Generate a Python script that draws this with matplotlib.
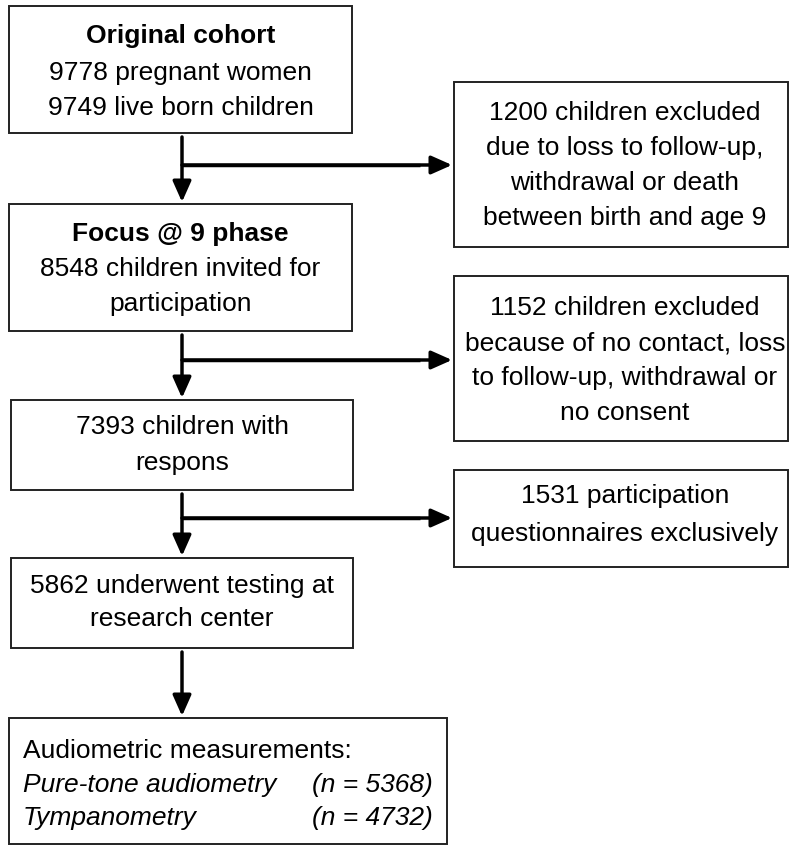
import matplotlib.pyplot as plt
from matplotlib.patches import Rectangle

plt.rcParams['font.family'] = ['Liberation Sans', 'DejaVu Sans']

# Textinhalt der Kästen
main_titles = ['Original cohort', 'Focus @ 9 phase', None, None]
main_lines = [
    ['9778 pregnant women', '9749 live born children'],
    ['8548 children invited for', 'participation'],
    ['7393 children with', 'respons'],
    ['5862 underwent testing at', 'research center'],
]
excluded_lines = [
    ['1200 children excluded', 'due to loss to follow-up,', 'withdrawal or death', 'between birth and age 9'],
    ['1152 children excluded', 'because of no contact, loss', 'to follow-up, withdrawal or', 'no consent'],
    ['1531 participation', 'questionnaires exclusively'],
]
final_header = 'Audiometric measurements:'
final_methods = ['Pure-tone audiometry', 'Tympanometry']
final_n = [5368, 4732]

# Layout (Pixelkoordinaten, Grundlinien der Textzeilen)
main_boxes = [(9, 7, 343, 127), (9, 205, 343, 127), (11, 401, 342, 90), (11, 559, 342, 90)]
excl_boxes = [(454, 83, 334, 165), (454, 277, 334, 165), (454, 471, 334, 97)]
final_box = (9, 719, 438, 126)
main_text_y = [[43, 80, 115], [241, 276, 311], [434, 470], [593, 626]]
excl_text_y = [[120, 155, 190, 225], [315, 350, 385, 420], [503, 541]]
final_text_y = [758, 792, 825]
branch_y = [166, 361, 519]
cx = 182
fs = 19

fig = plt.figure(figsize=(7.9, 8.53), dpi=100)
ax = fig.add_axes([0, 0, 1, 1])
ax.set_xlim(0, 790)
ax.set_ylim(853, 0)
ax.axis('off')

def box(b):
    ax.add_patch(Rectangle((b[0], b[1]), b[2], b[3], fill=False, edgecolor='#222222', linewidth=1.4))

def arrow(x0, y0, x1, y1):
    ax.annotate('', xy=(x1, y1), xytext=(x0, y0),
                arrowprops=dict(arrowstyle='-|>,head_length=0.9,head_width=0.4', color='black',
                                lw=2.5, shrinkA=0, shrinkB=0, mutation_scale=14))

for i, b in enumerate(main_boxes):
    box(b)
    ys = main_text_y[i]
    lines = main_lines[i]
    if main_titles[i]:
        ax.text(b[0] + b[2] / 2, ys[0], main_titles[i], ha='center', va='baseline', fontsize=fs, fontweight='bold')
        ys = ys[1:]
    for t, y in zip(lines, ys):
        ax.text(b[0] + b[2] / 2, y, t, ha='center', va='baseline', fontsize=fs)

for i, b in enumerate(excl_boxes):
    box(b)
    for t, y in zip(excluded_lines[i], excl_text_y[i]):
        ax.text(b[0] + b[2] / 2 + 4, y, t, ha='center', va='baseline', fontsize=fs)

box(final_box)
ax.text(23, final_text_y[0], final_header, ha='left', va='baseline', fontsize=fs)
for j, (m, n) in enumerate(zip(final_methods, final_n)):
    y = final_text_y[j + 1]
    ax.text(23, y, m, ha='left', va='baseline', fontsize=fs, style='italic')
    ax.text(312, y, f'(n = {n})', ha='left', va='baseline', fontsize=fs, style='italic')

# Pfeile
next_tops = [205, 401, 559, 719]
bottoms = [134, 332, 491, 649]
for k in range(4):
    arrow(cx, bottoms[k] + 4, cx, next_tops[k] - 2)
for k, y in enumerate(branch_y):
    ax.plot([cx, 420], [y, y], color='black', lw=2.5, solid_capstyle='butt')
    arrow(cx, y, 452, y)

fig.savefig('out.png', dpi=100)
